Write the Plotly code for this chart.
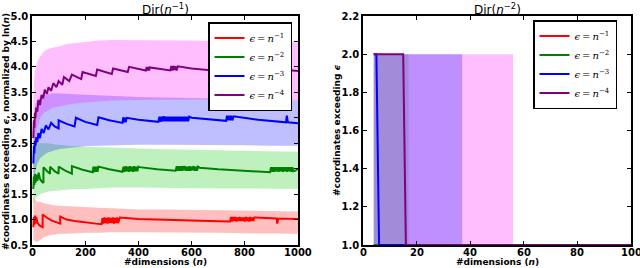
import plotly.graph_objects as go

# ---------------- data: left panel, Dir(n^-1) ----------------
red_line = [(5,0.85),(7,1.05),(9,0.9),(11,1.08),(13,0.92),(16,1.05),(20,0.95),(25,0.9),(32,0.87),(40,0.85),(40,1.1),(55,1.04),(75,0.98),(100,0.94),(106,0.92),(106,1.06),(130,1.0),(160,0.97),(200,0.94),(240,0.92),(262,0.91),(265,1.03),(268,0.92),(272,1.04),(276,0.93),(280,1.03),(284,0.92),(288,1.04),(292,0.93),(296,1.03),(300,0.93),(304,1.04),(308,0.92),(312,1.03),(316,0.93),(320,1.04),(324,0.93),(328,1.04),(330,1.04),(400,1.01),(500,0.99),(600,0.975),(700,0.965),(745,0.96),(748,1.05),(752,0.96),(756,1.05),(760,0.97),(764,1.05),(768,0.96),(772,1.04),(776,0.97),(780,1.05),(784,0.97),(788,1.04),(792,0.97),(796,1.04),(800,0.96),(804,1.05),(808,0.97),(812,1.04),(816,0.96),(820,1.05),(824,0.97),(828,1.04),(832,0.97),(836,1.04),(840,1.04),(880,1.03),(920,1.02),(922,0.92),(926,1.02),(1000,1.01)]
green_line = [(5,1.6),(7,1.85),(9,1.68),(11,1.9),(13,1.72),(16,1.88),(20,1.76),(25,1.92),(30,1.8),(36,1.75),(43,1.72),(43,2.03),(55,1.96),(68,1.9),(68,2.04),(85,1.95),(100,1.9),(100,2.04),(125,1.96),(150,1.9),(150,2.05),(190,1.98),(228,1.93),(231,2.04),(234,1.93),(237,2.04),(240,1.94),(243,2.04),(246,1.94),(250,2.04),(290,1.99),(340,1.94),(344,2.04),(348,1.94),(352,2.05),(356,1.95),(360,2.04),(364,1.94),(368,2.05),(372,1.95),(376,2.04),(380,1.94),(384,2.05),(388,1.95),(392,2.04),(396,1.95),(400,2.04),(404,2.03),(470,1.99),(540,1.96),(544,2.05),(548,1.96),(552,2.05),(556,1.96),(560,2.05),(564,1.96),(568,2.05),(572,1.97),(576,2.05),(580,1.96),(584,2.04),(588,1.96),(592,2.05),(596,1.96),(600,2.04),(604,1.97),(608,2.05),(612,1.96),(616,2.04),(620,1.96),(624,2.04),(630,2.02),(700,1.99),(800,1.96),(895,1.93),(899,2.03),(903,1.94),(907,2.03),(911,1.94),(915,2.03),(919,1.95),(923,2.03),(927,1.94),(931,2.03),(935,1.95),(939,2.03),(943,1.94),(947,2.03),(951,1.95),(955,2.03),(959,1.94),(963,2.03),(967,1.95),(971,2.03),(975,1.94),(979,2.03),(983,1.95),(990,1.96),(1000,2.0)]
blue_line = [(5,2.1),(7,2.45),(9,2.3),(11,2.55),(13,2.45),(16,2.62),(20,2.52),(24,2.7),(30,2.6),(36,2.78),(44,2.7),(52,2.85),(62,2.77),(72,2.9),(85,2.83),(100,2.79),(100,2.95),(130,2.88),(160,2.83),(165,3.0),(200,2.92),(245,2.86),(250,3.01),(290,2.95),(340,2.9),(343,3.01),(346,2.91),(349,3.0),(352,2.91),(356,3.0),(400,2.96),(475,2.92),(479,3.02),(483,2.92),(487,3.02),(491,2.93),(495,3.03),(499,2.93),(503,3.02),(507,2.93),(511,3.02),(515,2.93),(519,3.02),(523,2.93),(527,3.02),(531,2.93),(535,3.02),(539,2.93),(543,3.02),(547,2.93),(551,3.02),(555,2.93),(559,3.02),(563,2.93),(567,3.02),(571,2.93),(575,3.02),(579,2.93),(583,3.02),(587,2.93),(591,3.02),(600,3.0),(660,2.97),(730,2.94),(733,3.04),(737,2.95),(741,3.04),(745,2.95),(749,3.04),(753,2.95),(758,3.03),(850,2.96),(955,2.91),(958,3.04),(962,2.91),(1000,2.89)]
purple_line = [(5,2.6),(7,2.95),(9,2.8),(11,3.1),(13,3.0),(16,3.2),(20,3.12),(24,3.35),(30,3.25),(36,3.45),(42,3.38),(48,3.55),(56,3.47),(62,3.6),(72,3.53),(80,3.68),(92,3.6),(100,3.72),(114,3.65),(120,3.8),(140,3.72),(150,3.85),(185,3.76),(190,3.9),(240,3.82),(245,3.95),(300,3.86),(305,3.97),(360,3.9),(365,4.0),(428,3.93),(431,4.0),(434,3.93),(437,4.0),(440,3.93),(443,3.99),(480,3.96),(520,3.93),(524,4.02),(528,3.93),(532,4.02),(536,3.94),(540,4.01),(544,3.93),(548,4.01),(600,3.97),(680,3.93),(684,4.02),(688,3.93),(692,4.02),(696,3.94),(700,4.01),(704,4.01),(770,3.97),(840,3.93),(844,4.01),(848,3.93),(852,4.01),(856,3.93),(860,4.0),(864,3.93),(868,4.01),(872,3.94),(876,4.0),(880,3.99),(940,3.95),(1000,3.92)]

band_n = [5, 10, 20, 30, 45, 60, 80, 100, 130, 160, 200, 250, 300, 400, 500, 600, 700, 800, 900, 1000]
red_upper = [1.45,1.4,1.35,1.35,1.32,1.3,1.28,1.27,1.26,1.25,1.25,1.23,1.22,1.2,1.2,1.19,1.18,1.17,1.17,1.16]
red_lower = [0.6,0.58,0.56,0.6,0.65,0.68,0.7,0.72,0.72,0.73,0.74,0.74,0.75,0.75,0.75,0.74,0.74,0.73,0.73,0.72]
green_upper = [2.4,2.45,2.5,2.5,2.5,2.5,2.48,2.47,2.45,2.44,2.43,2.42,2.41,2.4,2.38,2.37,2.36,2.35,2.34,2.33]
green_lower = [1.3,1.4,1.45,1.5,1.52,1.55,1.56,1.57,1.58,1.6,1.6,1.62,1.63,1.63,1.62,1.62,1.61,1.61,1.6,1.6]
blue_upper = [2.9,3.2,3.35,3.4,3.45,3.47,3.48,3.48,3.47,3.46,3.45,3.44,3.43,3.41,3.4,3.39,3.38,3.37,3.36,3.35]
blue_lower = [1.6,1.9,2.1,2.2,2.27,2.32,2.35,2.38,2.4,2.42,2.44,2.45,2.46,2.47,2.47,2.47,2.46,2.46,2.45,2.45]
purple_upper = [3.5,3.9,4.1,4.2,4.3,4.35,4.38,4.4,4.45,4.47,4.5,4.52,4.53,4.53,4.53,4.52,4.51,4.5,4.49,4.48]
purple_lower = [2.0,2.5,2.8,3.0,3.1,3.15,3.2,3.22,3.25,3.28,3.3,3.32,3.34,3.35,3.36,3.36,3.36,3.35,3.35,3.35]

left_xticks = [0, 200, 400, 600, 800, 1000]
left_yticks = [0.5, 1.0, 1.5, 2.0, 2.5, 3.0, 3.5, 4.0, 4.5, 5.0]

# ---------------- data: right panel, Dir(n^-2) ----------------
r_red_n = [4, 100];          r_red_v = [1, 1]
r_green_n = [4, 100];        r_green_v = [1, 1]
r_blue_n = [4, 5, 6, 100];   r_blue_v = [2, 2, 1, 1]
r_purple_n = [4, 15, 16, 100]; r_purple_v = [2, 2, 1, 1]
r_green_band_n = [4, 17, 17, 100]; r_green_band_up = [2, 2, 1, 1]; r_green_band_lo = [1, 1, 1, 1]
r_blue_band_n = [4, 37, 37, 100];  r_blue_band_up = [2, 2, 1, 1];  r_blue_band_lo = [1, 1, 1, 1]
r_purple_band_n = [4, 56, 56, 100]; r_purple_band_up = [2, 2, 1, 1]; r_purple_band_lo = [1, 1, 1, 1]

right_xticks = [0, 20, 40, 60, 80, 100]
right_yticks = [1.0, 1.2, 1.4, 1.6, 1.8, 2.0, 2.2]

labels = ["<i>ϵ</i>\u2009=\u2009<i>n</i><sup>−1</sup>", "<i>ϵ</i>\u2009=\u2009<i>n</i><sup>−2</sup>",
          "<i>ϵ</i>\u2009=\u2009<i>n</i><sup>−3</sup>", "<i>ϵ</i>\u2009=\u2009<i>n</i><sup>−4</sup>"]
line_colors = ["#ff0000", "#008000", "#0000ff", "#800080"]
band_colors_left = ["rgba(255,0,0,0.25)", "rgba(0,200,0,0.25)", "rgba(0,0,255,0.25)", "rgba(255,0,255,0.25)"]

fig = go.Figure()

# left bands
for up, lo, col in [(red_upper, red_lower, band_colors_left[0]), (green_upper, green_lower, band_colors_left[1]),
                    (blue_upper, blue_lower, band_colors_left[2]), (purple_upper, purple_lower, band_colors_left[3])]:
    fig.add_trace(go.Scatter(x=band_n, y=lo, mode="lines", line=dict(width=0), showlegend=False,
                             hoverinfo="skip", xaxis="x", yaxis="y"))
    fig.add_trace(go.Scatter(x=band_n, y=up, mode="lines", line=dict(width=0), fill="tonexty",
                             fillcolor=col, showlegend=False, hoverinfo="skip", xaxis="x", yaxis="y"))

# left lines
for series, col, lab in zip([red_line, green_line, blue_line, purple_line], line_colors, labels):
    xs = [p[0] for p in series]
    ys = [p[1] for p in series]
    fig.add_trace(go.Scatter(x=xs, y=ys, mode="lines", line=dict(color=col, width=2), name=lab,
                             legend="legend", xaxis="x", yaxis="y"))

# right bands
for n_, up, lo, col in [(r_purple_band_n, r_purple_band_up, r_purple_band_lo, "rgba(255,0,255,0.25)"),
                        (r_blue_band_n, r_blue_band_up, r_blue_band_lo, "rgba(0,0,255,0.25)"),
                        (r_green_band_n, r_green_band_up, r_green_band_lo, "rgba(0,128,0,0.15)")]:
    fig.add_trace(go.Scatter(x=n_, y=lo, mode="lines", line=dict(width=0), showlegend=False,
                             hoverinfo="skip", xaxis="x2", yaxis="y2"))
    fig.add_trace(go.Scatter(x=n_, y=up, mode="lines", line=dict(width=0), fill="tonexty",
                             fillcolor=col, showlegend=False, hoverinfo="skip", xaxis="x2", yaxis="y2"))

# right lines
for xs, ys, col, lab in zip([r_red_n, r_green_n, r_blue_n, r_purple_n],
                            [r_red_v, r_green_v, r_blue_v, r_purple_v], line_colors, labels):
    fig.add_trace(go.Scatter(x=xs, y=ys, mode="lines", line=dict(color=col, width=2), name=lab,
                             legend="legend2", xaxis="x2", yaxis="y2"))

H = 268.0
W = 640.0
ytop = 1 - 16 / H
ybot = 1 - 245 / H
tickfont = dict(family="DejaVu Sans", size=10, color="black", weight="bold")
axis_common = dict(showline=True, linecolor="black", linewidth=1.5, mirror="ticks", ticks="inside",
                   ticklen=4, tickcolor="black", showgrid=False, zeroline=False, tickfont=tickfont)

legend_common = dict(xanchor="right", yanchor="top", bgcolor="white", bordercolor="black", borderwidth=1.5,
                     font=dict(family="DejaVu Serif", size=10, color="black"), itemwidth=30,
                     tracegroupgap=0, traceorder="normal")

fig.update_layout(
    width=640, height=268,
    margin=dict(l=0, r=0, t=0, b=0, autoexpand=False),
    paper_bgcolor="white", plot_bgcolor="white",
    xaxis=dict(domain=[32 / W, 298 / W], range=[0, 1000], tickvals=left_xticks, showticklabels=False,
               anchor="y", **axis_common),
    yaxis=dict(domain=[ybot, ytop], range=[0.5, 5.0], tickvals=left_yticks,
               ticktext=[f"{v:.1f}" for v in left_yticks], anchor="x", **axis_common),
    xaxis2=dict(domain=[363 / W, 631 / W], range=[0, 100], tickvals=right_xticks, showticklabels=False,
                anchor="y2", **axis_common),
    yaxis2=dict(domain=[ybot, ytop], range=[1.0, 2.2], tickvals=right_yticks,
                ticktext=[f"{v:.1f}" for v in right_yticks], anchor="x2", **axis_common),
    legend=dict(x=292 / W, y=1 - 22 / H, **legend_common),
    legend2=dict(x=617 / W, y=1 - 20 / H, **legend_common),
    showlegend=True,
)

# x tick labels placed on the axes' own scales
for t in left_xticks:
    fig.add_annotation(text=str(t), x=t, xref="x", y=1 - 252 / H, yref="paper", showarrow=False,
                       font=tickfont, xanchor="center", yanchor="middle")
for t in right_xticks:
    fig.add_annotation(text=str(t), x=t, xref="x2", y=1 - 252 / H, yref="paper", showarrow=False,
                       font=tickfont, xanchor="center", yanchor="middle")

ann_font = dict(family="DejaVu Sans", size=9, color="black", weight="bold")
title_font = dict(family="DejaVu Sans", size=12, color="black")
fig.add_annotation(text="Dir(<i>n</i><sup>−1</sup>)", x=(32 + 298) / 2 / W, y=1 - 9 / H, xref="paper", yref="paper",
                   showarrow=False, font=title_font, xanchor="center", yanchor="middle")
fig.add_annotation(text="Dir(<i>n</i><sup>−2</sup>)", x=(363 + 631) / 2 / W, y=1 - 9 / H, xref="paper", yref="paper",
                   showarrow=False, font=title_font, xanchor="center", yanchor="middle")
fig.add_annotation(text="#dimensions (<i>n</i>)", x=(32 + 298) / 2 / W, y=1 - 262 / H, xref="paper", yref="paper",
                   showarrow=False, font=ann_font, xanchor="center", yanchor="middle")
fig.add_annotation(text="#dimensions (<i>n</i>)", x=(363 + 631) / 2 / W, y=1 - 262 / H, xref="paper", yref="paper",
                   showarrow=False, font=ann_font, xanchor="center", yanchor="middle")
fig.add_annotation(text="#coordinates exceeding <i>ϵ</i>, normalized by ln(<i>n</i>)", x=6 / W, y=1 - 132 / H,
                   xref="paper", yref="paper", showarrow=False, font=ann_font, textangle=-90,
                   xanchor="center", yanchor="middle")
fig.add_annotation(text="#coordinates exceeding <i>ϵ</i>", x=337 / W, y=1 - 130 / H,
                   xref="paper", yref="paper", showarrow=False, font=ann_font, textangle=-90,
                   xanchor="center", yanchor="middle")

fig.write_html("out.html", config={"displayModeBar": False})

# remove the browser's default page margin so the figure sits at the window's top-left corner
with open("out.html", "r", encoding="utf-8") as f:
    html = f.read()
html = html.replace("<body>", '<body style="margin:0;padding:0;overflow:hidden">', 1)
with open("out.html", "w", encoding="utf-8") as f:
    f.write(html)
